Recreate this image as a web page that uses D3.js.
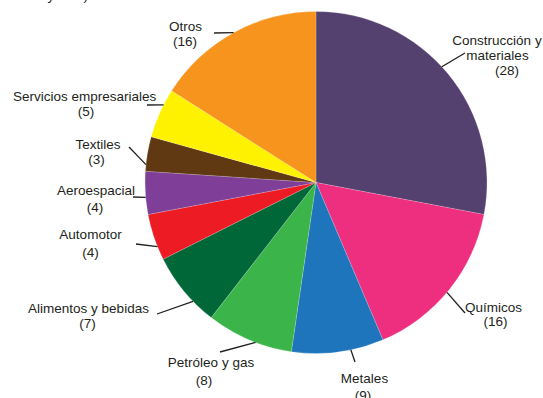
<!DOCTYPE html>
<html><head><meta charset="utf-8">
<script src="https://cdn.jsdelivr.net/npm/d3@7/dist/d3.min.js"></script>
<style>
html,body{margin:0;padding:0;background:#fff;}
svg{display:block;font-family:"Liberation Sans",Arial,Helvetica,sans-serif;}
</style></head>
<body>
<svg id="chart" width="543" height="398"></svg>
<script>
// Data
const categories = ["Construcción y\nmateriales","Químicos","Metales","Petróleo y gas","Alimentos y bebidas","Automotor","Aeroespacial","Textiles","Servicios empresariales","Otros"];
// slice shares (%)
const shares = [28.0,15.6,8.7,8.2,7.1,4.4,4.05,3.25,4.7,16.0];
// values printed in the labels
const labelValues = [28,16,9,8,7,4,4,3,5,16];
const colors = ["#55416F","#EE2E7E","#1F75BC","#3BB54A","#006838","#ED1C24","#7F3F98","#603913","#FFF200","#F7941D"];
const titleText = "Sector industrial y total)";

// Layout (label placement)
const cx = 316, cy = 182.5, R = 171;
const labelLayout = [
  {f:0.47, end:[465,53], lines:[[497,45],[497.5,60],[507,75]]},
  {f:0.52, end:[465,313], lines:[[493.5,312],[495.5,326]]},
  {f:0.36, end:[355,362], lines:[[364.5,383],[363,400]]},
  {f:0.42, end:[220,352], lines:[[211,367],[204,385]]},
  {f:0.32, end:[157,314], lines:[[88.5,313],[87.5,328]]},
  {f:0.29, end:[136,244], lines:[[90.5,239],[90.5,257]]},
  {f:0.40, end:[133,197], lines:[[96,194.5],[95,212]]},
  {f:0.19, end:[129,147], lines:[[98,149],[96.5,164]]},
  {f:0.68, end:[147,105], lines:[[84.7,101],[86,116]]},
  {f:0.50, end:[214,33], lines:[[185.5,31],[185,46]]}
];

const svg = d3.select("#chart");

svg.append("text").attr("x",88).attr("y",0).attr("text-anchor","end")
  .attr("font-size",13.5).attr("fill","#231F20").text(titleText);

const pie = d3.pie().sort(null).value(d=>d)(shares);
const arc = d3.arc().innerRadius(0).outerRadius(R);

const g = svg.append("g").attr("transform",`translate(${cx},${cy})`);
g.selectAll("path").data(pie).join("path")
  .attr("d",arc).attr("fill",(d,i)=>colors[i])
  .attr("stroke","#ffffff").attr("stroke-opacity",0.35).attr("stroke-width",0.5);

// leaders and labels
pie.forEach((a,i)=>{
  const L = labelLayout[i];
  const ang = a.startAngle + L.f*(a.endAngle-a.startAngle);
  const p = d3.pointRadial(ang, R);
  svg.append("line")
    .attr("x1",cx+p[0]).attr("y1",cy+p[1])
    .attr("x2",L.end[0]).attr("y2",L.end[1])
    .attr("stroke","#231F20").attr("stroke-width",1.3);
  const textLines = categories[i].split("\n").concat([`(${labelValues[i]})`]);
  textLines.forEach((t,j)=>{
    svg.append("text").attr("x",L.lines[j][0]).attr("y",L.lines[j][1])
      .attr("text-anchor","middle").attr("font-size",13.5).attr("fill","#231F20").text(t);
  });
});
</script>
</body></html>
